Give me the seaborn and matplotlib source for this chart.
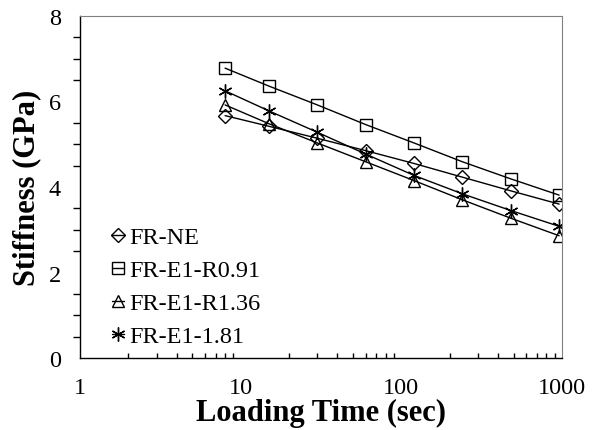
import matplotlib
matplotlib.use("Agg")
import matplotlib.pyplot as plt
import seaborn as sns
import pandas as pd
from matplotlib.ticker import FixedLocator, LogLocator, NullFormatter

times = [8, 15, 30, 60, 120, 240, 480, 960]
fr_ne = [5.67, 5.42, 5.14, 4.85, 4.55, 4.23, 3.91, 3.60]
fr_e1_r091 = [6.78, 6.36, 5.92, 5.46, 5.03, 4.59, 4.19, 3.81]
fr_e1_r136 = [5.92, 5.48, 5.03, 4.59, 4.15, 3.70, 3.27, 2.86]
fr_e1_181 = [6.25, 5.78, 5.28, 4.77, 4.27, 3.84, 3.45, 3.08]
labels = ["FR-NE", "FR-E1-R0.91", "FR-E1-R1.36", "FR-E1-1.81"]
x_ticks = [1, 10, 100, 1000]
x_tick_labels = ["1", "10", "100", "1000"]
y_ticks = [0, 2, 4, 6, 8]

sns.set_theme(style="white")
plt.rcParams['font.family'] = ['Liberation Serif', 'DejaVu Serif']

fig = plt.figure(figsize=(5.95, 4.31), dpi=100)
ax = fig.add_axes([80/595, 1-359/431, (562-80)/595, (359-17)/431])

series = [fr_ne, fr_e1_r091, fr_e1_r136, fr_e1_181]
markers = ["D", "s", "^", (6, 2, 0)]
msizes = [7, 8, 8, 10]
for lab, vals, m, ms in zip(labels, series, markers, msizes):
    df = pd.DataFrame({"t": times, "s": vals})
    sns.lineplot(data=df, x="t", y="s", ax=ax, color="black", linewidth=1,
                 marker=m, markersize=ms, markerfacecolor="none",
                 markeredgecolor="black", markeredgewidth=1, label=lab)

ax.set_xscale("log")
ax.set_xlim(1, 1000)
ax.set_ylim(0, 8)
ax.xaxis.set_major_locator(FixedLocator(x_ticks))
ax.set_xticklabels(x_tick_labels)
ax.xaxis.set_minor_locator(LogLocator(base=10, subs=range(2, 10)))
ax.xaxis.set_minor_formatter(NullFormatter())
ax.yaxis.set_major_locator(FixedLocator(y_ticks))
ax.yaxis.set_minor_locator(FixedLocator([0.5*i for i in range(17)]))

ax.tick_params(axis="both", which="major", direction="inout", length=9.5, width=1,
               color="black", labelsize=17.5, labelcolor="black", pad=9)
ax.tick_params(axis="x", which="minor", direction="in", length=3.5, width=1, color="black", bottom=True)
ax.tick_params(axis="y", which="minor", direction="out", length=5, width=1, color="black", left=True)

for s in ["left", "bottom"]:
    ax.spines[s].set_color("black")
    ax.spines[s].set_linewidth(1)
for s in ["top", "right"]:
    ax.spines[s].set_color("#808080")
    ax.spines[s].set_linewidth(0.8)

ax.set_xlabel("Loading Time (sec)", fontsize=22, fontweight="bold", color="black", labelpad=0)
ax.set_ylabel("Stiffness (GPa)", fontsize=22, fontweight="bold", color="black", labelpad=5)

leg = ax.legend(loc="upper left", bbox_to_anchor=(0.066, 0.385), frameon=False,
                fontsize=17.5, handlelength=0.5, handletextpad=0.2, labelspacing=0.45,
                borderaxespad=0, borderpad=0)
for t in leg.get_texts():
    t.set_color("black")

fig.savefig("out.png", dpi=100)
